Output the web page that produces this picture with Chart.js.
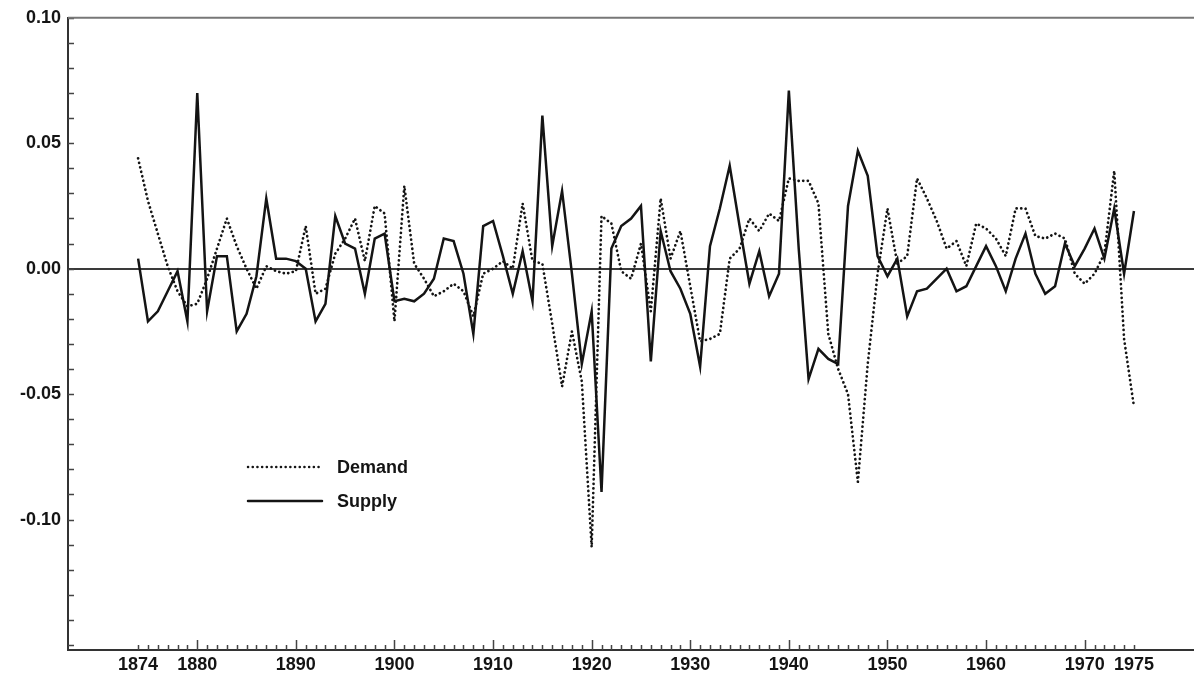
<!DOCTYPE html>
<html>
<head>
<meta charset="utf-8">
<script src="https://cdn.jsdelivr.net/npm/chart.js@4.4.1/dist/chart.umd.min.js"></script>
<style>
  html, body { margin: 0; padding: 0; background: #ffffff; }
  #wrap { width: 1194px; height: 673px; }
</style>
</head>
<body>
<div id="wrap"><canvas id="shocks" width="1194" height="673"></canvas></div>
<script>
const years = [
  1874, 1875, 1876, 1877, 1878, 1879, 1880, 1881, 1882, 1883,
  1884, 1885, 1886, 1887, 1888, 1889, 1890, 1891, 1892, 1893,
  1894, 1895, 1896, 1897, 1898, 1899, 1900, 1901, 1902, 1903,
  1904, 1905, 1906, 1907, 1908, 1909, 1910, 1911, 1912, 1913,
  1914, 1915, 1916, 1917, 1918, 1919, 1920, 1921, 1922, 1923,
  1924, 1925, 1926, 1927, 1928, 1929, 1930, 1931, 1932, 1933,
  1934, 1935, 1936, 1937, 1938, 1939, 1940, 1941, 1942, 1943,
  1944, 1945, 1946, 1947, 1948, 1949, 1950, 1951, 1952, 1953,
  1954, 1955, 1956, 1957, 1958, 1959, 1960, 1961, 1962, 1963,
  1964, 1965, 1966, 1967, 1968, 1969, 1970, 1971, 1972, 1973,
  1974, 1975
];

const demand = [
  0.044, 0.027, 0.014, 0.001, -0.009, -0.015, -0.014, -0.004, 0.008, 0.020,
  0.009, 0.000, -0.008, 0.001, -0.001, -0.002, -0.001, 0.017, -0.010, -0.008,
  0.006, 0.012, 0.020, 0.003, 0.025, 0.022, -0.021, 0.033, 0.002, -0.004,
  -0.011, -0.009, -0.006, -0.009, -0.019, -0.002, 0.000, 0.003, 0.000, 0.026,
  0.003, 0.002, -0.022, -0.047, -0.025, -0.045, -0.111, 0.021, 0.018, -0.001,
  -0.004, 0.010, -0.017, 0.028, 0.004, 0.015, -0.007, -0.029, -0.028, -0.026,
  0.004, 0.008, 0.020, 0.015, 0.022, 0.019, 0.036, 0.035, 0.035, 0.026,
  -0.026, -0.040, -0.050, -0.085, -0.038, -0.002, 0.024, 0.002, 0.005, 0.036,
  0.028, 0.019, 0.008, 0.011, 0.001, 0.018, 0.016, 0.012, 0.005, 0.024,
  0.024, 0.013, 0.012, 0.014, 0.012, -0.002, -0.006, -0.002, 0.006, 0.039,
  -0.028, -0.055
];

const supply = [
  0.004, -0.021, -0.017, -0.009, -0.001, -0.021, 0.070, -0.017, 0.005, 0.005,
  -0.025, -0.018, -0.003, 0.028, 0.004, 0.004, 0.003, 0.000, -0.021, -0.014,
  0.021, 0.010, 0.008, -0.010, 0.012, 0.014, -0.013, -0.012, -0.013, -0.010,
  -0.004, 0.012, 0.011, -0.002, -0.026, 0.017, 0.019, 0.005, -0.010, 0.007,
  -0.013, 0.061, 0.009, 0.031, -0.002, -0.038, -0.017, -0.089, 0.008, 0.017,
  0.020, 0.025, -0.037, 0.015, -0.001, -0.008, -0.018, -0.039, 0.009, 0.024,
  0.041, 0.017, -0.006, 0.007, -0.011, -0.002, 0.071, 0.008, -0.044, -0.032,
  -0.036, -0.038, 0.025, 0.047, 0.037, 0.005, -0.003, 0.004, -0.019, -0.009,
  -0.008, -0.004, 0.000, -0.009, -0.007, 0.001, 0.009, 0.001, -0.009, 0.004,
  0.014, -0.002, -0.010, -0.007, 0.010, 0.001, 0.008, 0.016, 0.004, 0.024,
  -0.002, 0.023
];

const xLabelYears = [1874, 1880, 1890, 1900, 1910, 1920, 1930, 1940, 1950, 1960, 1970, 1975];
const yLabelValues = [-0.10, -0.05, 0.00, 0.05, 0.10];
const yMinorTicks = [
  -0.15, -0.14, -0.13, -0.12, -0.11, -0.10, -0.09, -0.08, -0.07, -0.06,
  -0.05, -0.04, -0.03, -0.02, -0.01, 0.00, 0.01, 0.02, 0.03, 0.04,
  0.05, 0.06, 0.07, 0.08, 0.09, 0.10
];

const ink = "#141414";
const labelFont = { family: "'Liberation Sans', Arial, sans-serif", size: 18, weight: "bold" };

// inward tick marks, top frame line and the small legend inside the plot
const axisMarks = {
  id: "axisMarks",
  afterDraw(chart) {
    const { ctx, chartArea, scales } = chart;
    const xs = scales.x;
    const ys = scales.y;

    ctx.save();
    ctx.strokeStyle = "#444";
    ctx.lineWidth = 1.5;
    ctx.beginPath();
    years.forEach(yr => {
      const px = Math.round(xs.getPixelForValue(yr)) + 0.5;
      const len = yr % 10 === 0 ? 10 : 5;
      ctx.moveTo(px, chartArea.bottom);
      ctx.lineTo(px, chartArea.bottom - len);
    });
    yMinorTicks.forEach(v => {
      const py = Math.round(ys.getPixelForValue(v)) + 0.5;
      ctx.moveTo(chartArea.left, py);
      ctx.lineTo(chartArea.left + 6, py);
    });
    ctx.stroke();

    ctx.strokeStyle = "#777";
    ctx.lineWidth = 2;
    ctx.beginPath();
    ctx.moveTo(chartArea.left, chartArea.top);
    ctx.lineTo(chartArea.right, chartArea.top);
    ctx.stroke();

    // legend
    const lx0 = chartArea.left + 180;
    const lx1 = chartArea.left + 254;
    const rows = [
      { label: "Demand", y: 467, dash: [0.1, 4.6] },
      { label: "Supply", y: 501, dash: [] }
    ];
    ctx.strokeStyle = ink;
    ctx.lineWidth = 2.5;
    ctx.lineCap = "round";
    ctx.fillStyle = ink;
    ctx.font = "bold 18px 'Liberation Sans', Arial, sans-serif";
    ctx.textBaseline = "middle";
    rows.forEach(r => {
      ctx.setLineDash(r.dash);
      ctx.beginPath();
      ctx.moveTo(lx0, r.y);
      ctx.lineTo(lx1, r.y);
      ctx.stroke();
      ctx.fillText(r.label, chartArea.left + 269, r.y + 1);
    });
    ctx.restore();
  }
};

const ctx = document.getElementById("shocks").getContext("2d");

window.shockChart = new Chart(ctx, {
  type: "line",
  data: {
    datasets: [
      {
        label: "Demand",
        data: years.map((yr, i) => ({ x: yr, y: demand[i] })),
        borderColor: ink,
        borderWidth: 2.7,
        borderDash: [0.1, 4.5],
        borderCapStyle: "round",
        borderJoinStyle: "round",
        pointRadius: 0,
        tension: 0,
        fill: false
      },
      {
        label: "Supply",
        data: years.map((yr, i) => ({ x: yr, y: supply[i] })),
        borderColor: ink,
        borderWidth: 2.5,
        borderJoinStyle: "miter",
        pointRadius: 0,
        tension: 0,
        fill: false
      }
    ]
  },
  options: {
    responsive: false,
    animation: false,
    devicePixelRatio: 1,
    layout: { padding: { top: 13, right: 0, bottom: 0, left: 0 } },
    plugins: {
      legend: { display: false },
      tooltip: { enabled: false }
    },
    scales: {
      x: {
        type: "linear",
        position: "bottom",
        min: 1866.89,
        max: 1981.09,
        afterBuildTicks: scale => {
          scale.ticks = xLabelYears.map(v => ({ value: v }));
        },
        afterFit: scale => { scale.height = 23; },
        grid: { display: false, drawTicks: false },
        border: { display: true, color: "#333", width: 2 },
        ticks: {
          autoSkip: false,
          maxRotation: 0,
          padding: 4,
          color: ink,
          font: labelFont,
          callback: v => String(v)
        }
      },
      y: {
        min: -0.152,
        max: 0.10,
        afterBuildTicks: scale => {
          scale.ticks = yLabelValues.map(v => ({ value: v }));
        },
        afterFit: scale => { scale.width = 68; },
        grid: {
          drawTicks: false,
          color: c => (c.tick && Math.abs(c.tick.value) < 1e-9 ? "#3a3a3a" : "rgba(0,0,0,0)"),
          lineWidth: 2
        },
        border: { display: true, color: "#333", width: 2 },
        ticks: {
          padding: 7,
          color: ink,
          font: labelFont,
          callback: v => v.toFixed(2)
        }
      }
    }
  },
  plugins: [axisMarks]
});
</script>
</body>
</html>
